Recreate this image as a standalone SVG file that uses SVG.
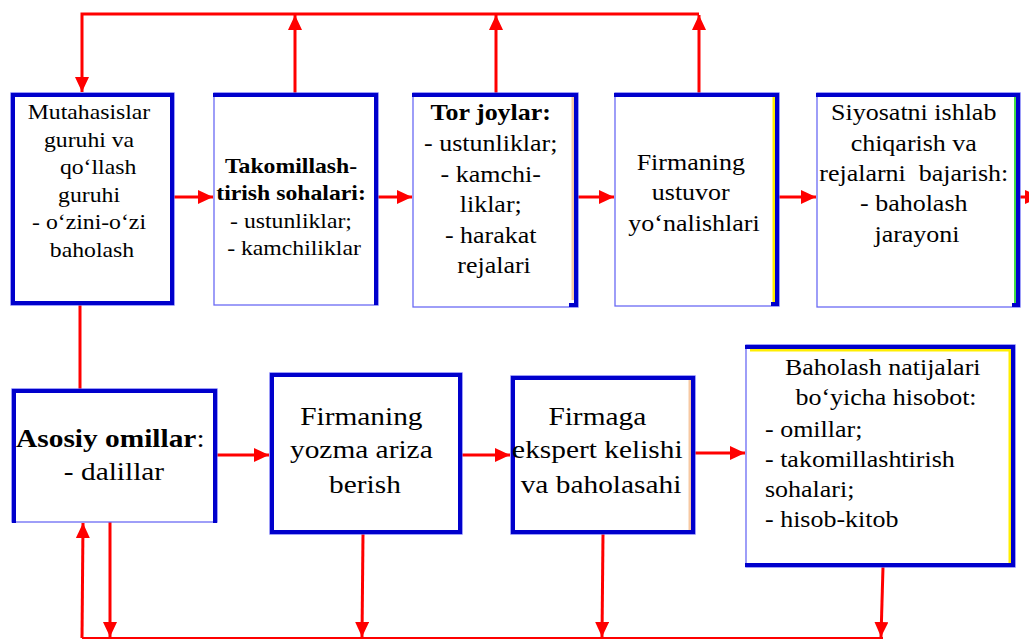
<svg xmlns="http://www.w3.org/2000/svg" width="1029" height="641" viewBox="0 0 1029 641">
  <defs>
    <marker id="head" markerUnits="userSpaceOnUse" markerWidth="16" markerHeight="14" refX="15" refY="7" orient="auto">
      <path d="M0,0 L15,7 L0,14 Z" fill="#ff0000"/>
    </marker>
    <style>
      .box{fill:#ffffff;stroke:#6a6af5;stroke-width:1.3}
      .edge{stroke:#0000cc;stroke-width:4;fill:none;stroke-linecap:square}
      .tan{stroke:#f7c9a3;stroke-width:3;fill:none}
      .yel{stroke:#ffee00;stroke-width:3;fill:none}
      .grn{stroke:#44dd44;stroke-width:2;fill:none}
      .conn{stroke:#ff0000;stroke-width:3;fill:none}
      .thin{stroke:#ff0000;stroke-width:2;fill:none}
      .arr{marker-end:url(#head)}
      text{font-family:'Liberation Serif','Times New Roman','DejaVu Serif',serif;fill:#000000}
      .t{text-anchor:middle}
      .l{text-anchor:start}
      .b{font-weight:bold}
    </style>
  </defs>

  <!-- connectors -->
  <g id="connectors">
    <!-- feedback loop along the top -->
    <path class="conn arr" d="M699,14 L82,14 L82,92"/>
    <path class="conn arr" d="M295,93 L295,15"/>
    <path class="conn arr" d="M496,93 L496,15"/>
    <path class="conn arr" d="M699,93 L699,15"/>
    <!-- top row flow -->
    <path class="conn arr" d="M174,197 L213,197"/>
    <path class="conn arr" d="M378,197 L412,197"/>
    <path class="conn arr" d="M578,197 L614,197"/>
    <path class="conn arr" d="M779,197 L816,197"/>
    <path class="conn arr" d="M1020,197 L1040,197"/>
    <!-- link between rows -->
    <path class="conn" d="M80,305 L80,389"/>
    <!-- bottom row flow -->
    <path class="conn arr" d="M217,455 L269,455"/>
    <path class="conn arr" d="M462,455 L510,455"/>
    <path class="conn arr" d="M695,453 L745,453"/>
    <!-- feedback loop along the bottom -->
    <path class="thin" d="M82,638 L883,638"/>
    <path class="conn arr" d="M82,638 L83,523"/>
    <path class="conn arr" d="M110,522 L110,637"/>
    <path class="conn arr" d="M363,534 L362,637"/>
    <path class="conn arr" d="M603,534 L602,637"/>
    <path class="conn arr" d="M883,567 L881,637"/>
  </g>

  <!-- top row -->
  <g id="mutahasislar">
    <rect class="box" x="11" y="93" width="163" height="212"/>
    <rect class="edge" x="13" y="95" width="159" height="208"/>
    <text class="t" font-family="Liberation Serif, serif" font-size="21" transform="translate(92,0) scale(1.13,1)">
      <tspan x="0" y="119">Mutahasislar</tspan>
      <tspan x="0" y="147">guruhi va</tspan>
      <tspan x="8" y="174">qo‘llash</tspan>
      <tspan x="0" y="202">guruhi</tspan>
      <tspan x="0" y="229">- o‘zini-o‘zi</tspan>
      <tspan x="0" y="257">baholash</tspan>
    </text>
  </g>

  <g id="takomillash">
    <rect class="box" x="214" y="93" width="164" height="212"/>
    <path class="edge" d="M215,95 L376,95 L376,303"/>
    <text class="t" font-family="Liberation Serif, serif" font-size="21" transform="translate(294,0) scale(1.13,1)">
      <tspan class="b" x="0" y="173">Takomillash-</tspan>
      <tspan class="b" x="0" y="200">tirish sohalari:</tspan>
      <tspan x="0" y="228">- ustunliklar;</tspan>
      <tspan x="0" y="255">- kamchiliklar</tspan>
    </text>
  </g>

  <g id="tor-joylar">
    <rect class="box" x="413" y="93" width="165" height="214"/>
    <path class="tan" d="M573,97 L573,300"/>
    <path class="edge" d="M414,95 L576,95 L576,305 L571,305"/>
    <text class="t" font-family="Liberation Serif, serif" font-size="23" transform="translate(494,0) scale(1.13,1)">
      <tspan class="b" x="0" y="120">Tor joylar:</tspan>
      <tspan x="0" y="151">- ustunliklar;</tspan>
      <tspan x="0" y="182">- kamchi-</tspan>
      <tspan x="0" y="212">liklar;</tspan>
      <tspan x="0" y="243">- harakat</tspan>
      <tspan x="0" y="273">rejalari</tspan>
    </text>
  </g>

  <g id="ustuvor">
    <rect class="box" x="615" y="93" width="164" height="213"/>
    <path class="yel" d="M774,97 L774,302"/>
    <path class="edge" d="M616,95 L777,95 L777,304 L773,304"/>
    <text class="t" font-family="Liberation Serif, serif" font-size="23" transform="translate(694,0) scale(1.13,1)">
      <tspan x="0" y="170">Firmaning</tspan>
      <tspan x="0" y="200">ustuvor</tspan>
      <tspan x="0" y="231">yo‘nalishlari</tspan>
    </text>
  </g>

  <g id="siyosat">
    <rect class="box" x="817" y="93" width="203" height="214"/>
    <path class="grn" d="M1015,97 L1015,304"/>
    <path class="edge" d="M818,95 L1018,95 L1018,305 L1014,305"/>
    <text class="t" font-family="Liberation Serif, serif" font-size="23" transform="translate(917,0) scale(1.13,1)">
      <tspan x="0" y="120">Siyosatni ishlab</tspan>
      <tspan x="0" y="151">chiqarish va</tspan>
      <tspan x="0" y="181" style="white-space:pre">rejalarni  bajarish:</tspan>
      <tspan x="0" y="211">- baholash</tspan>
      <tspan x="0" y="242">jarayoni</tspan>
    </text>
  </g>

  <!-- bottom row -->
  <g id="asosiy-omillar">
    <rect class="box" x="12" y="389" width="205" height="133"/>
    <path class="edge" d="M14,521 L14,391 L215,391 L215,521"/>
    <text class="t" font-family="Liberation Serif, serif" font-size="26" transform="translate(114,0) scale(1.13,1)">
      <tspan x="0" y="447"><tspan class="b">Asosiy omillar</tspan>:</tspan>
      <tspan x="0" y="480">- dalillar</tspan>
    </text>
  </g>

  <g id="yozma-ariza">
    <rect class="box" x="270" y="373" width="192" height="161"/>
    <rect class="edge" x="272" y="375" width="188" height="157"/>
    <text class="t" font-family="Liberation Serif, serif" font-size="26" transform="translate(365,0) scale(1.13,1)">
      <tspan x="0" y="425">Firmaning</tspan>
      <tspan x="0" y="458">yozma ariza</tspan>
      <tspan x="0" y="493">berish</tspan>
    </text>
  </g>

  <g id="ekspert">
    <rect class="box" x="511" y="376" width="184" height="158"/>
    <path class="tan" d="M690,380 L690,530"/>
    <rect class="edge" x="513" y="378" width="180" height="154"/>
    <text class="t" font-family="Liberation Serif, serif" font-size="26" transform="translate(601,0) scale(1.13,1)">
      <tspan x="0" y="425">Firmaga</tspan>
      <tspan x="0" y="458">ekspert kelishi</tspan>
      <tspan x="0" y="493">va baholasahi</tspan>
    </text>
  </g>

  <g id="hisobot">
    <rect class="box" x="746" y="345" width="269" height="222"/>
    <path class="yel" d="M750,350 L1010,350 L1010,563"/>
    <path class="edge" d="M747,347 L1013,347 L1013,565 L747,565"/>
    <text class="t" font-family="Liberation Serif, serif" font-size="23" transform="translate(886,0) scale(1.13,1)">
      <tspan x="0" y="375">Baholash natijalari</tspan>
      <tspan x="0" y="405">bo‘yicha hisobot:</tspan>
    </text>
    <text class="t l" font-family="Liberation Serif, serif" font-size="23" transform="translate(765,0) scale(1.13,1)">
      <tspan x="0" y="437">- omillar;</tspan>
      <tspan x="0" y="467">- takomillashtirish</tspan>
      <tspan x="0" y="497">sohalari;</tspan>
      <tspan x="0" y="527">- hisob-kitob</tspan>
    </text>
  </g>
</svg>
